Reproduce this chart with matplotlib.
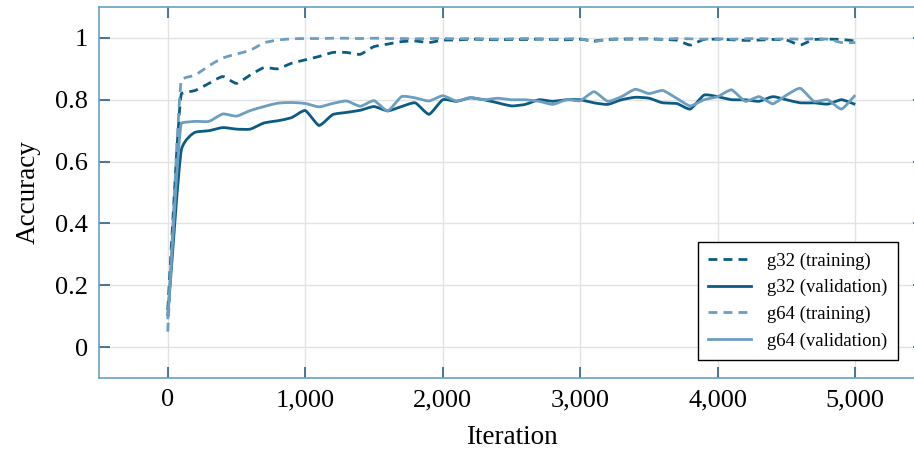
import numpy as np
import matplotlib
matplotlib.use("Agg")
import matplotlib.pyplot as plt
from matplotlib.path import Path
from matplotlib.patches import PathPatch
from matplotlib.lines import Line2D

plt.rcParams['font.family'] = ['Liberation Serif', 'DejaVu Serif']

# accuracy logged every 100 iterations
iters = list(range(0, 5001, 100))

g32_train = [0.12, 0.82, 0.83, 0.853, 0.875, 0.853, 0.88, 0.904, 0.90, 0.918,
             0.929, 0.94, 0.953, 0.953, 0.947, 0.972, 0.98, 0.988, 0.99, 0.985,
             0.993, 0.993, 0.996, 0.995, 0.994, 0.995, 0.995, 0.996, 0.995, 0.994,
             0.996, 0.99, 0.995, 0.996, 0.996, 0.997, 0.995, 0.993, 0.977, 0.995,
             0.996, 0.994, 0.992, 0.993, 0.995, 0.993, 0.977, 0.995, 0.996, 0.995,
             0.99]
g32_val = [0.10, 0.64, 0.695, 0.70, 0.71, 0.705, 0.705, 0.725, 0.732, 0.742,
           0.765, 0.717, 0.752, 0.759, 0.766, 0.778, 0.764, 0.778, 0.79, 0.753,
           0.80, 0.795, 0.806, 0.80, 0.79, 0.78, 0.785, 0.80, 0.795, 0.80,
           0.80, 0.79, 0.785, 0.80, 0.808, 0.805, 0.79, 0.788, 0.77, 0.815,
           0.81, 0.80, 0.80, 0.795, 0.81, 0.80, 0.79, 0.79, 0.786, 0.80,
           0.785]
g64_train = [0.05, 0.865, 0.88, 0.91, 0.935, 0.948, 0.96, 0.984, 0.993, 0.997,
             0.998, 0.998, 0.999, 0.999, 0.998, 0.999, 0.998, 0.998, 0.997, 0.998,
             0.998, 0.997, 0.998, 0.997, 0.996, 0.997, 0.998, 0.997, 0.996, 0.997,
             0.997, 0.988, 0.996, 0.997, 0.998, 0.997, 0.996, 0.998, 0.997, 0.996,
             0.997, 0.996, 0.997, 0.998, 0.996, 0.997, 0.996, 0.997, 0.996, 0.985,
             0.985]
g64_val = [0.09, 0.725, 0.73, 0.73, 0.754, 0.747, 0.765, 0.778, 0.789, 0.791,
           0.788, 0.777, 0.788, 0.796, 0.779, 0.797, 0.764, 0.81, 0.806, 0.796,
           0.813, 0.796, 0.807, 0.80, 0.805, 0.80, 0.80, 0.795, 0.785, 0.80,
           0.797, 0.826, 0.795, 0.81, 0.834, 0.82, 0.83, 0.805, 0.78, 0.80,
           0.81, 0.832, 0.795, 0.81, 0.787, 0.815, 0.837, 0.795, 0.80, 0.77,
           0.815]

labels = ['g32 (training)', 'g32 (validation)', 'g64 (training)', 'g64 (validation)']
dark = '#0b5b83'
light = '#6b9ec0'


def smooth_path(x, y, tension=0.55):
    # cubic bezier through every point; tangents are clipped on monotone
    # stretches so the steep first step does not overshoot
    x = np.asarray(x, float)
    y = np.asarray(y, float)
    n = len(x)
    s = np.diff(y) / np.diff(x)
    m = np.zeros(n)
    for i in range(n):
        if i == 0:
            m[i] = s[0]
        elif i == n - 1:
            m[i] = s[-1]
        else:
            m[i] = (s[i - 1] + s[i]) / 2
            if s[i - 1] * s[i] > 0:
                lim = 3 * min(abs(s[i - 1]), abs(s[i]))
                m[i] = np.sign(m[i]) * min(abs(m[i]), lim)
    verts = [(x[0], y[0])]
    codes = [Path.MOVETO]
    for i in range(n - 1):
        h = (x[i + 1] - x[i]) * tension / 3
        verts += [(x[i] + h, y[i] + m[i] * h),
                  (x[i + 1] - h, y[i + 1] - m[i + 1] * h),
                  (x[i + 1], y[i + 1])]
        codes += [Path.CURVE4] * 3
    return Path(verts, codes)


fig = plt.figure(figsize=(9.14, 4.59), dpi=100)
ax = fig.add_axes([99 / 914, 1 - 378 / 459, 825 / 914, 371 / 459])

dash = (0, (3.2, 2.2))
styles = [(dark, dash), (dark, '-'), (light, dash), (light, '-')]
series = [g32_train, g32_val, g64_train, g64_val]

handles = []
for vals, (col, ls), lab in zip(series, styles, labels):
    ax.add_patch(PathPatch(smooth_path(iters, vals), fill=False, edgecolor=col,
                           linestyle=ls, linewidth=2.0, zorder=3))
    handles.append(Line2D([], [], color=col, linestyle=ls, linewidth=2.0, label=lab))

ax.set_xlim(-500, 5500)
ax.set_ylim(-0.1, 1.1)
ax.set_xticks([0, 1000, 2000, 3000, 4000, 5000])
ax.set_xticklabels(['0', '1,000', '2,000', '3,000', '4,000', '5,000'])
ax.set_yticks([0, 0.2, 0.4, 0.6, 0.8, 1.0])
ax.set_yticklabels(['0', '0.2', '0.4', '0.6', '0.8', '1'])

ax.grid(True, color='#e3e3e3', linewidth=1.0, zorder=0)
ax.set_axisbelow(True)
for s in ax.spines.values():
    s.set_color('#6a9fc0')
    s.set_linewidth(1.2)
ax.tick_params(direction='in', length=8, width=1.2, color='#2b6089',
               top=True, right=True, labelsize=19, pad=8)

ax.set_xlabel('Iteration', fontsize=19.5, labelpad=10)
ax.set_ylabel('Accuracy', fontsize=19.5, labelpad=10)

leg = ax.legend(handles=handles, loc='upper left',
                bbox_to_anchor=(698 / 914, 1 - 242 / 459),
                bbox_transform=fig.transFigure, fontsize=13.5, frameon=True,
                fancybox=False, edgecolor='black', framealpha=1,
                handlelength=2.3, handletextpad=0.85, borderpad=0.55,
                labelspacing=0.5, borderaxespad=0)
leg.get_frame().set_linewidth(1.0)

fig.savefig('out.png', dpi=100)
